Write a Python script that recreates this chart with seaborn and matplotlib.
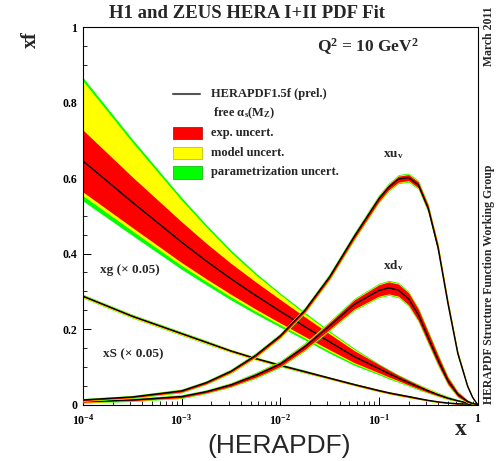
import numpy as np
import pandas as pd
import matplotlib
matplotlib.use("Agg")
import matplotlib.pyplot as plt
import seaborn as sns
from matplotlib.patches import Rectangle
from matplotlib.lines import Line2D
from matplotlib.ticker import FixedLocator, LogLocator, NullFormatter, FixedFormatter

# ---- PDFs at Q^2 = 10 GeV^2 (xg and xS scaled by 0.05) ----
x = [1e-4, 3.16e-4, 1e-3, 1.78e-3, 3.16e-3, 5.62e-3, 1e-2, 1.78e-2, 3.16e-2, 5.62e-2,
     0.1, 0.126, 0.158, 0.2, 0.251, 0.316, 0.398, 0.501, 0.631, 0.794, 0.891, 1.0]

# gluon: central value and band edges (exp / exp+model / total)
g_c   = [0.645, 0.536, 0.430, 0.380, 0.333, 0.289, 0.247, 0.206, 0.166, 0.127, 0.095, 0.082, 0.070, 0.058, 0.047, 0.036, 0.026, 0.017, 0.010, 0.004, 0.002, 0.0]
g_ehi = [0.727, 0.603, 0.484, 0.427, 0.374, 0.325, 0.278, 0.232, 0.187, 0.143, 0.106, 0.091, 0.077, 0.064, 0.052, 0.040, 0.029, 0.019, 0.011, 0.005, 0.002, 0.0]
g_elo = [0.563, 0.469, 0.376, 0.333, 0.292, 0.253, 0.216, 0.180, 0.145, 0.111, 0.084, 0.073, 0.063, 0.052, 0.042, 0.032, 0.023, 0.015, 0.009, 0.003, 0.002, 0.0]
g_mhi = [0.857, 0.695, 0.541, 0.470, 0.403, 0.344, 0.291, 0.240, 0.192, 0.146, 0.106, 0.091, 0.077, 0.064, 0.053, 0.042, 0.031, 0.021, 0.012, 0.006, 0.003, 0.0]
g_mlo = [0.553, 0.460, 0.368, 0.326, 0.285, 0.247, 0.211, 0.176, 0.141, 0.108, 0.082, 0.071, 0.061, 0.051, 0.041, 0.031, 0.022, 0.014, 0.009, 0.003, 0.002, 0.0]
g_phi = [0.866, 0.703, 0.548, 0.476, 0.409, 0.349, 0.295, 0.244, 0.195, 0.149, 0.108, 0.093, 0.079, 0.066, 0.054, 0.043, 0.032, 0.022, 0.013, 0.006, 0.003, 0.0]
g_plo = [0.539, 0.448, 0.358, 0.317, 0.277, 0.240, 0.205, 0.171, 0.136, 0.104, 0.079, 0.068, 0.059, 0.049, 0.039, 0.030, 0.021, 0.013, 0.008, 0.003, 0.002, 0.0]

# valence and sea: central values and symmetric half-widths (exp / exp+model / total)
u_c = [0.012, 0.020, 0.036, 0.058, 0.088, 0.130, 0.182, 0.250, 0.338, 0.445, 0.545, 0.576, 0.597, 0.601, 0.582, 0.520, 0.415, 0.268, 0.135, 0.048, 0.019, 0.0]
u_e = [0.002, 0.002, 0.003, 0.003, 0.003, 0.004, 0.004, 0.005, 0.005, 0.006, 0.007, 0.007, 0.008, 0.008, 0.008, 0.008, 0.008, 0.007, 0.005, 0.003, 0.002, 0.0]
u_m = [0.003, 0.003, 0.004, 0.004, 0.005, 0.006, 0.006, 0.007, 0.007, 0.008, 0.009, 0.009, 0.010, 0.010, 0.010, 0.010, 0.010, 0.009, 0.006, 0.004, 0.002, 0.0]
u_p = [0.004, 0.004, 0.005, 0.005, 0.006, 0.007, 0.007, 0.008, 0.009, 0.010, 0.011, 0.011, 0.012, 0.012, 0.012, 0.012, 0.011, 0.010, 0.007, 0.004, 0.002, 0.0]

d_c = [0.008, 0.012, 0.021, 0.034, 0.052, 0.077, 0.107, 0.153, 0.208, 0.265, 0.302, 0.309, 0.303, 0.280, 0.238, 0.178, 0.118, 0.063, 0.027, 0.008, 0.003, 0.0]
d_e = [0.002, 0.002, 0.003, 0.003, 0.004, 0.005, 0.006, 0.007, 0.009, 0.012, 0.015, 0.016, 0.016, 0.016, 0.015, 0.014, 0.012, 0.009, 0.006, 0.003, 0.001, 0.0]
d_m = [0.003, 0.003, 0.004, 0.004, 0.005, 0.006, 0.007, 0.009, 0.011, 0.014, 0.017, 0.018, 0.018, 0.018, 0.017, 0.016, 0.014, 0.011, 0.007, 0.004, 0.002, 0.0]
d_p = [0.004, 0.004, 0.005, 0.005, 0.006, 0.008, 0.009, 0.011, 0.013, 0.016, 0.019, 0.020, 0.020, 0.020, 0.019, 0.018, 0.016, 0.012, 0.008, 0.004, 0.002, 0.0]

s_c = [0.287, 0.234, 0.188, 0.165, 0.142, 0.122, 0.104, 0.087, 0.070, 0.053, 0.037, 0.031, 0.026, 0.021, 0.016, 0.011, 0.007, 0.004, 0.002, 0.001, 0.0, 0.0]
s_e = [0.002, 0.002, 0.002, 0.002, 0.002, 0.002, 0.002, 0.002, 0.002, 0.002, 0.002, 0.002, 0.002, 0.002, 0.002, 0.001, 0.001, 0.001, 0.001, 0.0, 0.0, 0.0]
s_m = [0.004, 0.004, 0.004, 0.004, 0.004, 0.004, 0.003, 0.003, 0.003, 0.003, 0.003, 0.003, 0.003, 0.003, 0.002, 0.002, 0.002, 0.001, 0.001, 0.0, 0.0, 0.0]
s_p = [0.005, 0.005, 0.005, 0.005, 0.004, 0.004, 0.004, 0.004, 0.003, 0.003, 0.003, 0.003, 0.003, 0.003, 0.002, 0.002, 0.002, 0.001, 0.001, 0.0, 0.0, 0.0]

y_ticks = [0, 0.2, 0.4, 0.6, 0.8, 1]
y_tick_labels = ["0", "0.2", "0.4", "0.6", "0.8", "1"]
x_ticks = [1e-4, 1e-3, 1e-2, 1e-1, 1]
x_tick_labels = ["10$^{-4}$", "10$^{-3}$", "10$^{-2}$", "10$^{-1}$", "1"]

RED, YEL, GRN = "#ff0000", "#ffff00", "#00ff00"

sns.set_theme(style="white")
plt.rcParams["font.family"] = ["Liberation Serif", "DejaVu Serif"]
plt.rcParams["font.weight"] = "bold"
plt.rcParams["mathtext.fontset"] = "custom"
plt.rcParams["mathtext.rm"] = "Liberation Serif:bold"
plt.rcParams["mathtext.it"] = "Liberation Serif:bold"
plt.rcParams["mathtext.bf"] = "Liberation Serif:bold"
plt.rcParams["mathtext.default"] = "rm"

W, H = 498, 461
fig = plt.figure(figsize=(W / 100, H / 100), dpi=100)
fig.patch.set_facecolor("white")


def fx(px):
    return px / W


def fy(py):
    return 1 - py / H


ax = fig.add_axes([fx(83), fy(404.5), (477.5 - 83) / W, (404.5 - 27) / H])
ax.set_facecolor("white")

df = pd.DataFrame(dict(x=x, g=g_c, u=u_c, d=d_c, s=s_c))
xa = np.array(x)


def band(lo, hi, color, z):
    ax.fill_between(xa, lo, hi, color=color, lw=0, zorder=z)


# gluon
band(g_plo, g_phi, GRN, 1)
band(g_mlo, g_mhi, YEL, 1.1)
band(g_elo, g_ehi, RED, 1.2)
sns.lineplot(data=df, x="x", y="g", color="black", lw=1.0, ax=ax, zorder=1.3)

# sea, d valence, u valence
for c, e, m, p, z in [(s_c, s_e, s_m, s_p, 2), (d_c, d_e, d_m, d_p, 3), (u_c, u_e, u_m, u_p, 4)]:
    c, e, m, p = map(np.array, (c, e, m, p))
    band(c - p, c + p, GRN, z)
    band(c - m, c + m, YEL, z + 0.1)
    band(c - e, c + e, RED, z + 0.2)
for col, z in [("s", 2.3), ("d", 3.3), ("u", 4.3)]:
    sns.lineplot(data=df, x="x", y=col, color="black", lw=1.0, ax=ax, zorder=z)

ax.set_xscale("log")
ax.set_xlim(1e-4, 1)
ax.set_ylim(0, 1)
ax.set_xlabel("")
ax.set_ylabel("")

ax.yaxis.set_major_locator(FixedLocator(y_ticks))
ax.yaxis.set_major_formatter(FixedFormatter(y_tick_labels))
ax.yaxis.set_minor_locator(FixedLocator(np.arange(0, 1.0001, 0.05)))
ax.xaxis.set_major_locator(FixedLocator(x_ticks))
ax.xaxis.set_major_formatter(FixedFormatter(x_tick_labels))
ax.xaxis.set_minor_locator(LogLocator(base=10, subs=np.arange(2, 10)))
ax.xaxis.set_minor_formatter(NullFormatter())

ax.tick_params(axis="both", which="both", direction="in", colors="black",
               labelsize=8.5, top=False, right=False, left=True, bottom=True)
ax.tick_params(axis="both", which="major", length=5.5, width=0.7)
ax.tick_params(axis="both", which="minor", length=2.8, width=0.6)
ax.tick_params(axis="y", pad=4)
ax.tick_params(axis="x", pad=6)
for lab in ax.get_xticklabels() + ax.get_yticklabels():
    lab.set_fontweight("bold")

for sp in ax.spines.values():
    sp.set_visible(True)
    sp.set_color("black")
    sp.set_linewidth(0.8)

# curve labels
fig.text(fx(393), fy(155), "xu$_{v}$", ha="center", va="center", fontsize=9.5, fontweight="bold")
fig.text(fx(393), fy(266), "xd$_{v}$", ha="center", va="center", fontsize=9.5, fontweight="bold")
fig.text(fx(100), fy(270), "xg (\u00d7 0.05)", ha="left", va="center", fontsize=9.5, fontweight="bold")
fig.text(fx(103), fy(354), "xS (\u00d7 0.05)", ha="left", va="center", fontsize=9.5, fontweight="bold")

# legend
fig.add_artist(Line2D([fx(173), fx(200)], [fy(94), fy(94)], color="#555555", lw=1.5,
                      transform=fig.transFigure))
fig.text(fx(211), fy(94), "HERAPDF1.5f (prel.)", ha="left", va="center", fontsize=9, fontweight="bold")
fig.text(fx(213), fy(113), "free \u03b1$_{s}$(M$_{Z}$)", ha="left", va="center", fontsize=9, fontweight="bold")
for (top, bot), col, edge, lab in [((127, 139), RED, "#b00000", "exp. uncert."),
                                   ((147, 159), YEL, "#b0b000", "model uncert."),
                                   ((166, 179), GRN, "#00b000", "parametrization uncert.")]:
    fig.add_artist(Rectangle((fx(173), fy(bot)), 29 / W, (bot - top) / H, facecolor=col,
                             edgecolor=edge, lw=0.5, transform=fig.transFigure))
    fig.text(fx(211), fy((top + bot) / 2), lab, ha="left", va="center", fontsize=9, fontweight="bold")

fig.text(fx(368), fy(47), "Q$^{2}$ = 10 GeV$^{2}$", ha="center", va="center", fontsize=12.5, fontweight="bold")

# titles and axis names
fig.text(fx(246.5), fy(14), "H1 and ZEUS HERA I+II PDF Fit", ha="center", va="center",
         fontsize=13.5, fontweight="bold")
fig.text(fx(31), fy(40), "xf", ha="center", va="center", rotation=90, fontsize=14.5, fontweight="bold")
fig.text(fx(461), fy(429), "x", ha="center", va="center", fontsize=17, fontweight="bold")
fig.text(fx(489), fy(404), "HERAPDF Structure Function Working Group", ha="center", va="bottom",
         rotation=90, fontsize=8.5, fontweight="bold")
fig.text(fx(489), fy(6), "March 2011", ha="center", va="top", rotation=90, fontsize=8.5, fontweight="bold")

fig.text(fx(279), fy(446), "(HERAPDF)", ha="center", va="center", fontsize=19,
         family=["Liberation Sans", "DejaVu Sans"], fontweight="normal")

fig.savefig("out.png", dpi=100, facecolor="white")
